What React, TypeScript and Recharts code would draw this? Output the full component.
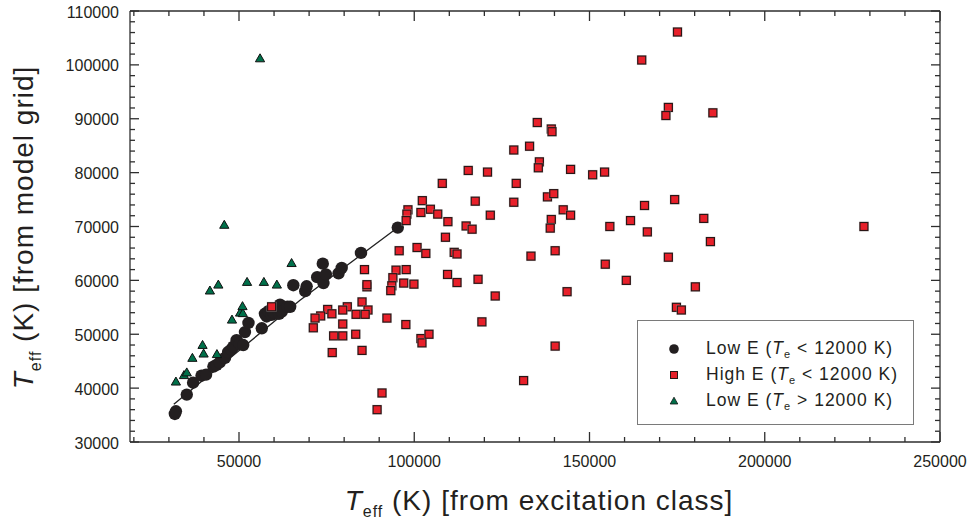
import React from "react";
import { ScatterChart, Scatter, XAxis, YAxis, Legend, ReferenceLine } from "recharts";

// Low E, Te < 12000 K
const lowE: [number, number][] = [
  [31700, 35200], [32000, 35700], [35100, 38800], [36900, 41000], [39300, 42300],
  [40600, 42500], [42700, 44000], [43600, 44300], [44500, 44800], [46000, 45600],
  [46900, 46700], [47800, 47200], [48400, 47700], [49300, 48900], [50200, 48200],
  [51200, 48000], [51700, 50400], [52700, 52100], [56500, 51100], [57400, 53800],
  [57900, 53300], [58400, 54300], [59300, 53600], [59800, 54000], [61400, 53800],
  [61700, 55500], [62200, 54200], [63800, 55100], [64600, 55100], [65500, 59100],
  [68900, 58000], [69300, 58900], [72300, 60600], [73900, 63100], [74100, 59500],
  [74800, 61100], [78400, 61300], [79300, 62300], [84800, 65100], [95300, 69800],
];

// High E, Te < 12000 K
const highE: [number, number][] = [
  [108000, 78000], [102300, 74800], [98200, 73100], [97900, 72300], [97700, 71100],
  [101900, 72600], [104600, 73200], [106700, 72300], [109600, 70900], [108900, 68000],
  [95700, 65500], [100800, 66100], [103300, 65000], [109500, 61100], [85800, 62000],
  [94800, 61900], [97700, 62000], [86500, 58800], [86500, 59200], [93900, 60500],
  [93600, 59000], [93300, 58100], [97000, 59500], [99900, 59300], [85100, 56000],
  [80900, 55100], [79600, 54500], [75300, 54600], [86800, 54500], [86000, 53700],
  [83400, 53700], [76500, 53800], [73300, 53400], [71700, 53000], [71200, 51200],
  [79600, 51900], [92200, 53000], [97600, 51800], [77000, 49700], [79600, 49700],
  [83300, 50000], [76600, 46600], [85100, 47000], [101900, 49200], [102200, 48400],
  [104200, 50000], [90800, 39100], [89400, 36000], [59300, 55100], [135100, 89300],
  [139100, 88100], [139300, 87600], [132900, 84900], [128400, 84200], [135700, 82000],
  [135400, 80900], [144600, 80600], [150900, 79600], [154300, 80100], [115400, 80400],
  [120900, 80100], [129100, 78000], [117400, 74700], [128400, 74500], [138000, 75500],
  [139800, 76100], [121700, 72100], [142500, 73100], [144600, 72100], [139100, 71300],
  [138800, 69700], [155800, 70000], [161700, 71100], [114800, 70100], [116500, 69500],
  [111400, 65200], [112200, 64900], [133300, 64500], [140200, 65500], [154500, 63000],
  [160500, 60000], [143600, 57900], [123100, 57100], [118200, 60200], [112200, 59600],
  [119300, 52300], [140200, 47800], [131200, 41400], [175100, 106100], [164900, 100900],
  [172500, 92100], [171800, 90600], [185200, 91100], [165700, 73900], [174300, 75000],
  [182600, 71500], [166500, 69000], [228300, 70000], [184500, 67200], [172500, 64300],
  [180200, 58800], [174800, 55000], [176200, 54500],
];

// Low E, Te > 12000 K
const lowEHot: [number, number][] = [
  [32000, 41200], [34300, 42400], [35100, 42900], [36700, 45600], [39600, 48000],
  [39900, 46400], [41700, 58100], [44100, 59200], [43700, 46300], [45800, 70300],
  [48000, 52700], [50300, 54000], [51100, 53900], [51000, 55200], [52300, 59700],
  [57100, 59700], [60800, 59200], [65000, 63200], [56000, 101200],
];

// fitted relation drawn through the low-E points
const fitLine = [
  { x: 31400, y: 37000 },
  { x: 67400, y: 56300 },
  { x: 95300, y: 69800 },
];

const xDomain = [18900, 250000];
const yDomain = [30000, 110000];
const xMajor = [50000, 100000, 150000, 200000, 250000];
const xTicks = [
  20000, 30000, 40000, 50000, 60000, 70000, 80000, 90000, 100000, 110000, 120000, 130000,
  140000, 150000, 160000, 170000, 180000, 190000, 200000, 210000, 220000, 230000, 240000, 250000,
];
const yMajor = [30000, 40000, 50000, 60000, 70000, 80000, 90000, 100000, 110000];
const yTicks = [
  30000, 32000, 34000, 36000, 38000, 40000, 42000, 44000, 46000, 48000, 50000,
  52000, 54000, 56000, 58000, 60000, 62000, 64000, 66000, 68000, 70000,
  72000, 74000, 76000, 78000, 80000, 82000, 84000, 86000, 88000, 90000,
  92000, 94000, 96000, 98000, 100000, 102000, 104000, 106000, 108000, 110000,
];

const legendRows = [
  { key: "dot", label: "Low E", sign: "<" },
  { key: "square", label: "High E", sign: "<" },
  { key: "tri", label: "Low E", sign: ">" },
];

const FONT = "'Liberation Sans', Arial, Helvetica, sans-serif";
const INK = "#231f20";
const AXIS = "#2e2e2e";
const RED = "#e8202a";
const GREEN = "#00704a";

// plot box size in pixels, used to turn tick lengths into axis units
const PLOT_W = 810;
const PLOT_H = 431;
const xPerPx = (xDomain[1] - xDomain[0]) / PLOT_W;
const yPerPx = (yDomain[1] - yDomain[0]) / PLOT_H;

const toPoints = (arr: [number, number][]) => arr.map(([x, y]) => ({ x, y }));

const Dot = (p: any) => <circle cx={p.cx} cy={p.cy} r={6.2} fill={INK} />;

const Square = (p: any) => (
  <g>
    <rect x={p.cx - 5} y={p.cy - 5} width={10} height={10} fill="#bdbdbd" opacity={0.55} />
    <rect x={p.cx - 4} y={p.cy - 4} width={8} height={8} fill={RED} stroke="#2b1616" strokeWidth={1.2} />
  </g>
);

const Tri = (p: any) => (
  <polygon
    points={`${p.cx},${p.cy - 4.6} ${p.cx + 4.6},${p.cy + 3.4} ${p.cx - 4.6},${p.cy + 3.4}`}
    fill={GREEN}
    stroke="#111"
    strokeWidth={1}
  />
);

const NoMark = () => <g />;

const BottomLabel = (p: any) => (
  <text x={p.x} y={p.y + 24.5} textAnchor="middle" fontSize={16} fill={INK} fontFamily={FONT}>
    {p.payload.value}
  </text>
);

const LeftLabel = (p: any) => (
  <text x={p.x - 11} y={p.y + 6.5} textAnchor="end" fontSize={16} fill={INK} fontFamily={FONT}>
    {p.payload.value}
  </text>
);

const XTitle = (props: any) => {
  const vb = props.viewBox || { x: 130, y: 442, width: 810 };
  return (
    <text x={vb.x + vb.width / 2 + 4} y={vb.y + 68} textAnchor="middle" fontSize={28} letterSpacing={1} fill={INK} fontFamily={FONT}>
      <tspan fontStyle="italic">T</tspan>
      <tspan fontSize={16} dy={7}>eff</tspan>
      <tspan dy={-7}> (K) [from excitation class]</tspan>
    </text>
  );
};

const YTitle = (props: any) => {
  const vb = props.viewBox || { x: 0, y: 11, height: 431 };
  const cy = vb.y + vb.height / 2 + 1;
  return (
    <text transform="rotate(-90)" x={-cy} y={vb.x + 33} textAnchor="middle" fontSize={28} letterSpacing={1} fill={INK} fontFamily={FONT}>
      <tspan fontStyle="italic">T</tspan>
      <tspan fontSize={16} dy={8}>eff</tspan>
      <tspan dy={-8}> (K) [from model grid]</tspan>
    </text>
  );
};

const LegendMarker = ({ kind }: { kind: string }) => (
  <svg width={14} height={14} style={{ display: "block" }}>
    {kind === "dot" && <circle cx={7} cy={7} r={4.8} fill={INK} />}
    {kind === "square" && <rect x={3.5} y={3.5} width={7} height={7} fill={RED} stroke="#2b1616" strokeWidth={1} />}
    {kind === "tri" && <polygon points="7,3.2 10.8,10 3.2,10" fill={GREEN} stroke="#111" strokeWidth={0.8} />}
  </svg>
);

const renderLegend = () => (
  <div
    style={{
      boxSizing: "border-box",
      width: 277,
      height: 105,
      border: "1.5px solid #7a7a7a",
      background: "#fff",
      paddingTop: 15,
      fontFamily: FONT,
      color: INK,
    }}
  >
    {legendRows.map((r) => (
      <div key={r.key} style={{ display: "flex", alignItems: "center", height: 26 }}>
        <div style={{ width: 29, paddingLeft: 29 }}>
          <LegendMarker kind={r.key} />
        </div>
        <div style={{ fontSize: 17.5, letterSpacing: 1, whiteSpace: "nowrap", marginLeft: 10 }}>
          {r.label} (<i>T</i>
          <span style={{ fontSize: 11, verticalAlign: "-0.4em" }}>e</span>
          {" "}{r.sign} 12000 K)
        </div>
      </div>
    ))}
  </div>
);

const frameLine = { stroke: AXIS, strokeWidth: 1.3 };

// inward tick marks on all four sides of the frame
const tickLen = (major: boolean) => (major ? 10 : 5);
const xTickSegs = xTicks.flatMap((v) => {
  const len = tickLen(xMajor.includes(v)) * yPerPx;
  return [
    [{ x: v, y: yDomain[0] }, { x: v, y: yDomain[0] + len }],
    [{ x: v, y: yDomain[1] }, { x: v, y: yDomain[1] - len }],
  ];
});
const yTickSegs = yTicks.flatMap((v) => {
  const len = (yMajor.includes(v) ? 9 : 5) * xPerPx;
  return [
    [{ x: xDomain[0], y: v }, { x: xDomain[0] + len, y: v }],
    [{ x: xDomain[1], y: v }, { x: xDomain[1] - len, y: v }],
  ];
});
const tickSegs = [...xTickSegs, ...yTickSegs];

export default function App() {
  return (
    <div style={{ position: "absolute", left: 0, top: 0, background: "#fff" }}>
      <ScatterChart width={970} height={522} margin={{ top: 11, right: 30, bottom: 0, left: 0 }}>
        <XAxis
          type="number"
          dataKey="x"
          domain={xDomain}
          allowDataOverflow
          ticks={xMajor}
          interval={0}
          tickLine={false}
          tickSize={0}
          tickMargin={0}
          tick={BottomLabel}
          axisLine={frameLine}
          height={80}
          label={{ content: XTitle }}
        />
        <YAxis
          type="number"
          dataKey="y"
          domain={yDomain}
          allowDataOverflow
          ticks={yMajor}
          interval={0}
          tickLine={false}
          tickSize={0}
          tickMargin={0}
          tick={LeftLabel}
          axisLine={frameLine}
          width={130}
          label={{ content: YTitle }}
        />
        <ReferenceLine y={yDomain[1]} stroke={AXIS} strokeWidth={1.3} ifOverflow="visible" />
        <ReferenceLine x={xDomain[1]} stroke={AXIS} strokeWidth={1.3} ifOverflow="visible" />
        {tickSegs.map((seg, i) => (
          <ReferenceLine key={`t${i}`} segment={seg} stroke={AXIS} strokeWidth={1.3} ifOverflow="visible" />
        ))}
        <Scatter
          name="fit"
          data={fitLine}
          line={{ stroke: "#222", strokeWidth: 1.3 }}
          lineType="joint"
          shape={NoMark}
          legendType="none"
          isAnimationActive={false}
        />
        <Scatter name="Low E (Te < 12000 K)" data={toPoints(lowE)} shape={Dot} fill={INK} isAnimationActive={false} />
        <Scatter name="High E (Te < 12000 K)" data={toPoints(highE)} shape={Square} fill={RED} isAnimationActive={false} />
        <Scatter name="Low E (Te > 12000 K)" data={toPoints(lowEHot)} shape={Tri} fill={GREEN} isAnimationActive={false} />
        <Legend
          layout="vertical"
          align="center"
          verticalAlign="middle"
          content={renderLegend}
          wrapperStyle={{ left: 637, top: 320, width: 277, height: 105 }}
        />
      </ScatterChart>
    </div>
  );
}
